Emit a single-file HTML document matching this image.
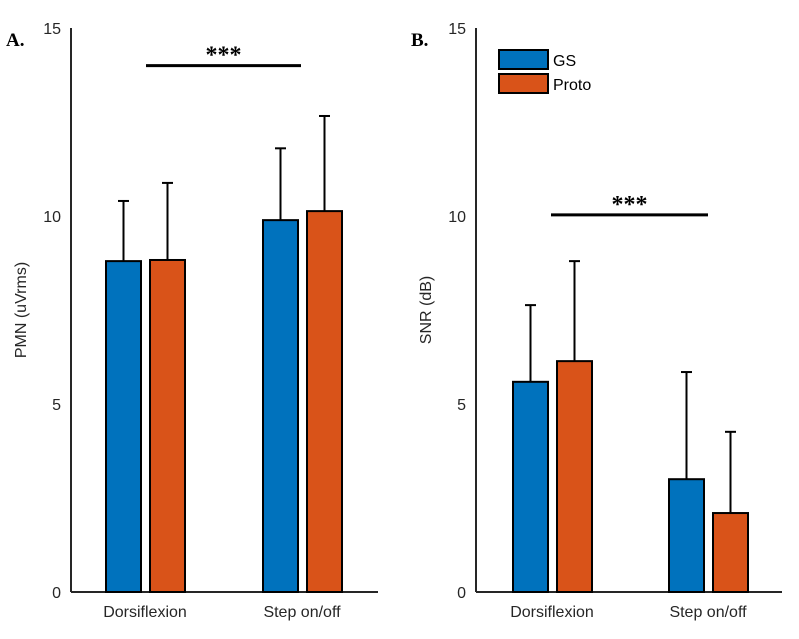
<!DOCTYPE html>
<html><head><meta charset="utf-8"><style>
body{margin:0;background:#fff;width:799px;height:634px;overflow:hidden}
text{font-family:"Liberation Sans",Arial,sans-serif}
</style></head><body>
<svg id="c" width="799" height="634" xmlns="http://www.w3.org/2000/svg"></svg>
<script>
const categories = ["Dorsiflexion", "Step on/off"];
const seriesNames = ["GS", "Proto"];
const pmnMeans = [[8.8, 8.83], [9.89, 10.13]];
const pmnErr = [[10.4, 10.88], [11.8, 12.66]];
const snrMeans = [[5.59, 6.14], [3.0, 2.1]];
const snrErr = [[7.63, 8.80], [5.85, 4.26]];
const yTicks = [0, 5, 10, 15];
const sigLevelA = 14.0, sigLevelB = 10.03;
const colors = ["#0072BD", "#D95319"];
const svg = document.getElementById('c');
const NS = "http://www.w3.org/2000/svg";
function mk(tag, attrs, parent) { const e = document.createElementNS(NS, tag); for (const k in attrs) e.setAttribute(k, attrs[k]); (parent || svg).appendChild(e); return e; }
const y0 = 592, yTop = 28;
function yS(v) { return y0 - (y0 - yTop) * v / 15; }
function panel(ax, axEnd, catX, means, errs, sig, sigX, label, ytitle, pname, legend) {
  const g = mk('g', {});
  
  
  const yl = mk('line', { x1: ax, y1: yTop, x2: ax, y2: y0, stroke: '#262626', 'stroke-width': 2 }, g);
   
  const xl = mk('line', { x1: ax, y1: y0, x2: axEnd, y2: y0, stroke: '#262626', 'stroke-width': 2 }, g);
   
  yTicks.forEach(t => {
    const tt = mk('text', { x: ax - 10, y: yS(t) + 6, 'text-anchor': 'end', 'font-size': 16, fill: '#262626' }, g);
    tt.textContent = t;
     
  });
  const yt = mk('text', { transform: `translate(${ax - 45},${yS(7.5)}) rotate(-90)`, 'text-anchor': 'middle', 'font-size': 16, fill: '#262626' }, g);
  yt.textContent = ytitle;
   
  const pl = mk('text', { x: ax - 65, y: 46, 'font-size': 19, 'font-weight': 'bold', fill: '#000', style: 'font-family:"Liberation Serif",serif' }, g);
  pl.textContent = label;
   
  categories.forEach((c, i) => {
    const cx = catX[i];
    const xt = mk('text', { x: cx, y: 617, 'text-anchor': 'middle', 'font-size': 16, fill: '#262626' }, g);
    xt.textContent = c;
     
    means[i].forEach((m, s) => {
      const bx = cx - 39 + s * 44;
      const el = mk('line', { x1: bx + 17.5, y1: yS(errs[i][s]), x2: bx + 17.5, y2: yS(m), stroke: '#000', 'stroke-width': 2 }, g);
       
      const cap = mk('line', { x1: bx + 12, y1: yS(errs[i][s]), x2: bx + 23, y2: yS(errs[i][s]), stroke: '#000', 'stroke-width': 2 }, g);
       
      const r = mk('rect', { x: bx, y: yS(m), width: 35, height: y0 - yS(m), fill: colors[s], stroke: '#000', 'stroke-width': 2 }, g);
      
      
    });
  });
  const sl = mk('line', { x1: sigX[0], y1: yS(sig), x2: sigX[1], y2: yS(sig), stroke: '#000', 'stroke-width': 3 }, g);
   
  const st = mk('text', { x: (sigX[0] + sigX[1]) / 2, y: yS(sig) - 3, 'text-anchor': 'middle', 'font-size': 24, 'font-weight': 'bold', fill: '#000', style: 'font-family:"Liberation Serif",serif' }, g);
  st.textContent = '***';
   
  if (legend) {
    seriesNames.forEach((n, s) => {
      const lr = mk('rect', { x: 499, y: 50 + s * 24, width: 49, height: 19, fill: colors[s], stroke: '#000', 'stroke-width': 2 }, g);
       
      const lt = mk('text', { x: 553, y: 66 + s * 24, 'font-size': 16, fill: '#000' }, g);
      lt.textContent = n;
       
    });
  }
}
panel(71, 378, [145, 302], pmnMeans, pmnErr, sigLevelA, [146, 301], 'A.', 'PMN (uVrms)', 'panel-a', false);
panel(476, 782, [552, 708], snrMeans, snrErr, sigLevelB, [551, 708], 'B.', 'SNR (dB)', 'panel-b', true);
</script>
</body></html>
